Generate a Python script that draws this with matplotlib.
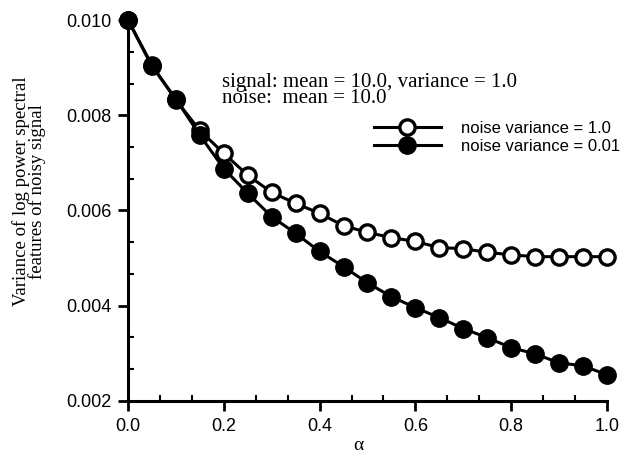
import numpy as np
import matplotlib
matplotlib.use("Agg")
from matplotlib import pyplot as plt
from matplotlib.ticker import MultipleLocator, FormatStrFormatter

# values
alpha = [0.00, 0.05, 0.10, 0.15, 0.20, 0.25, 0.30, 0.35, 0.40, 0.45, 0.50,
         0.55, 0.60, 0.65, 0.70, 0.75, 0.80, 0.85, 0.90, 0.95, 1.00]
var_noise_1 = [0.01000, 0.00905, 0.00832, 0.00768, 0.00720, 0.00674, 0.00638,
               0.00615, 0.00594, 0.00568, 0.00554, 0.00543, 0.00535, 0.00522,
               0.00520, 0.00512, 0.00507, 0.00503, 0.00503, 0.00503, 0.00503]
var_noise_001 = [0.01000, 0.00903, 0.00834, 0.00758, 0.00688, 0.00636, 0.00587,
                 0.00552, 0.00514, 0.00482, 0.00448, 0.00419, 0.00396, 0.00375,
                 0.00352, 0.00333, 0.00312, 0.00299, 0.00280, 0.00274, 0.00255]
labels = ["noise variance = 1.0", "noise variance = 0.01"]

sans = "Liberation Sans"
serif = "Liberation Serif"

fig = plt.figure(figsize=(6.22, 4.58), dpi=100)
ax = fig.add_axes([0.2058, 0.1245, 0.7700, 0.8318])

ax.plot(alpha, var_noise_1, color="black", lw=2.2, marker="o", ms=11,
        mfc="white", mec="black", mew=2.4, label=labels[0], clip_on=False, zorder=3)
ax.plot(alpha, var_noise_001, color="black", lw=2.2, marker="o", ms=12.5,
        mfc="black", mec="black", label=labels[1], clip_on=False, zorder=4)

ax.set_xlim(0.0, 1.0)
ax.set_ylim(0.002, 0.010)
ax.xaxis.set_major_locator(MultipleLocator(0.2))
ax.xaxis.set_minor_locator(MultipleLocator(0.2 / 3))
ax.yaxis.set_major_locator(MultipleLocator(0.002))
ax.yaxis.set_minor_locator(MultipleLocator(0.002 / 3))
ax.xaxis.set_major_formatter(FormatStrFormatter("%.1f"))
ax.yaxis.set_major_formatter(FormatStrFormatter("%.3f"))

for side in ["top", "right"]:
    ax.spines[side].set_visible(False)
for side in ["left", "bottom"]:
    ax.spines[side].set_linewidth(2.2)

ax.tick_params(which="major", direction="out", length=7, width=2, labelsize=13, pad=5)
ax.tick_params(which="minor", direction="in", length=4, width=1.5)
for lab in ax.get_xticklabels() + ax.get_yticklabels():
    lab.set_fontfamily(sans)

ax.set_xlabel("α", fontsize=14, fontfamily=serif)
ax.xaxis.set_label_coords(0.482, -0.095)
ax.set_ylabel("Variance of log power spectral\nfeatures of noisy signal",
              fontsize=13.5, fontfamily=serif, linespacing=0.85)
ax.yaxis.set_label_coords(-0.172, 0.55)

ax.text(0.197, 0.862, "signal: mean = 10.0, variance = 1.0\nnoise:  mean = 10.0",
        transform=ax.transAxes, fontsize=15, fontfamily=serif, va="top",
        linespacing=0.82)

leg = ax.legend(loc="upper left", bbox_to_anchor=(0.5, 0.752), frameon=False,
                handlelength=4.0, prop={"family": sans, "size": 12},
                labelspacing=0.15, handletextpad=1.2, borderaxespad=0)

fig.savefig("out.png", dpi=100)
